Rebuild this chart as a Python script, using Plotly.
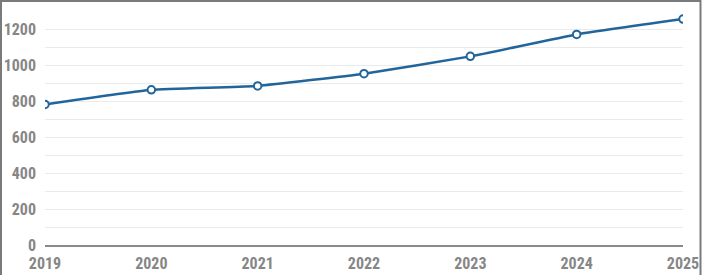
import plotly.graph_objects as go

years = ["2019", "2020", "2021", "2022", "2023", "2024", "2025"]
values = [781, 862, 884, 952, 1048, 1170, 1255]
y_ticks = [0, 200, 400, 600, 800, 1000, 1200]

W, H = 702, 275
ml, mr, mt, mb = 45, 19, 11, 30
pw, ph = W - ml - mr, H - mt - mb

fig = go.Figure()
fig.add_trace(go.Scatter(
    x=years, y=values, mode="lines+markers",
    line=dict(color="#21659b", width=2.5, shape="spline", smoothing=0.4),
    marker=dict(size=7.5, color="white", line=dict(color="#21659b", width=2)),
    hoverinfo="x+y", showlegend=False,
))

font = dict(family="Roboto Condensed, DejaVu Sans Condensed, sans-serif", size=16, color="#868686")

fig.update_layout(
    width=W, height=H,
    margin=dict(l=ml, r=mr, t=mt, b=mb, pad=0),
    paper_bgcolor="white", plot_bgcolor="white",
    font=font,
    xaxis=dict(type="category", range=[0, len(years) - 1], showgrid=False,
               showline=True, linecolor="#8a8a8a", linewidth=1.5, automargin=False,
               ticks="", ticklabelstandoff=3,
               tickfont=dict(font, weight="bold"), zeroline=False),
    yaxis=dict(range=[0, 1300], tickvals=y_ticks, showgrid=True, gridcolor="#eaeaea",
               gridwidth=1, zeroline=False, showline=False, ticks="", automargin=False,
               ticklabelstandoff=8,
               minor=dict(dtick=100, tick0=0, showgrid=True, gridcolor="#eaeaea", gridwidth=1),
               tickfont=dict(font, weight="bold")),
    shapes=[dict(type="rect", xref="paper", yref="paper",
                 x0=(1 - ml) / pw, x1=(W - 1.5 - ml) / pw,
                 y0=-(mb + 20) / ph, y1=1 + (mt - 1) / ph,
                 line=dict(color="#7a7a7a", width=2), fillcolor="rgba(0,0,0,0)", layer="above")],
)

fig.write_html("out.html")
